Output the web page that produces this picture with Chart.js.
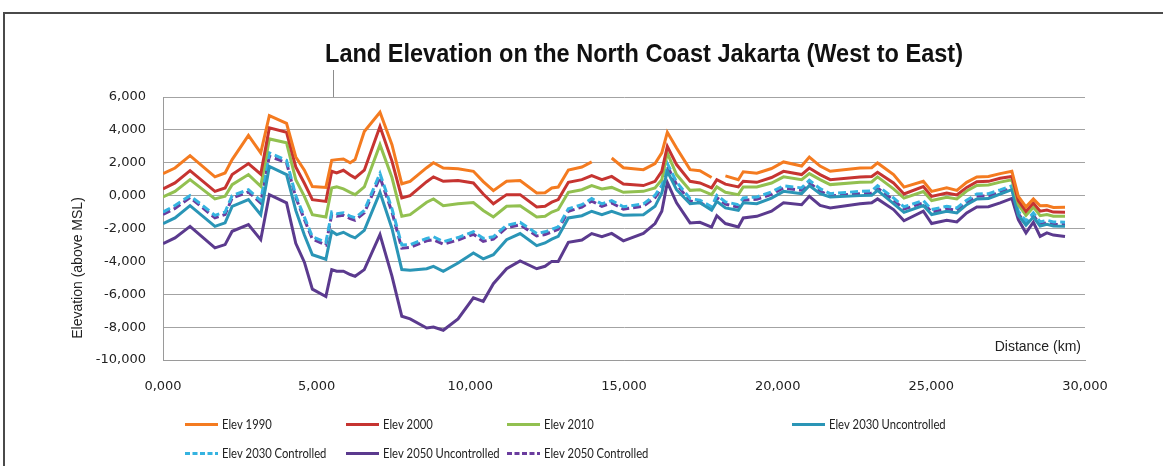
<!DOCTYPE html>
<html>
<head>
<meta charset="utf-8">
<script src="https://cdn.jsdelivr.net/npm/chart.js@4.4.1/dist/chart.umd.min.js"></script>
<style>
  html, body { margin: 0; padding: 0; background: #ffffff; }
  #wrap { position: relative; width: 1163px; height: 466px; overflow: hidden; }
  #frame { position: absolute; left: 3px; top: 12px; width: 1300px; height: 600px;
           border-top: 2px solid #4a4a4a; border-left: 2px solid #4a4a4a; }
  canvas { position: absolute; left: 0; top: 0; }
</style>
</head>
<body>
<div id="wrap">
  <div id="frame"></div>
  <canvas id="chart" width="1163" height="466"></canvas>
</div>
<script>
// Distance along the coast, km (west to east)
const distanceKm = [
  0, 0.39, 0.88, 1.69, 2.02, 2.25, 2.78, 3.18, 3.46, 4.02,
  4.32, 4.60, 4.86, 5.30, 5.49, 5.65, 5.87, 6.09, 6.25, 6.55,
  7.06, 7.45, 7.77, 8.04, 8.58, 8.80, 9.12, 9.60, 10.10, 10.42,
  10.75, 11.18, 11.62, 12.16, 12.43, 12.65, 12.86, 13.19, 13.63, 13.95,
  14.28, 14.60, 14.98, 15.63, 16.01, 16.23, 16.41, 16.71, 17.15, 17.47,
  17.85, 18.02, 18.30, 18.72, 18.88, 19.32, 19.80, 20.19, 20.78, 21.03,
  21.38, 21.71, 22.68, 23.06, 23.25, 23.77, 24.11, 24.74, 25.01, 25.50,
  25.83, 26.15, 26.48, 26.86, 27.24, 27.62, 27.83, 28.08, 28.32, 28.54,
  28.76, 28.97, 29.35
];

// Elevation above MSL, m
const elev1990 = [
  1.34, 1.68, 2.43, 1.14, 1.38, 2.19, 3.67, 2.60, 4.87, 4.40,
  2.35, 1.55, 0.55, 0.50, 2.15, 2.19, 2.23, 2.00, 2.19, 3.90,
  5.07, 3.10, 0.72, 0.87, 1.70, 2.00, 1.68, 1.64, 1.48, 0.85,
  0.30, 0.87, 0.92, 0.16, 0.18, 0.47, 0.52, 1.56, 1.74, 2.05,
  null, 2.29, 1.70, 1.58, 1.95, 2.60, 3.85, 2.90, 1.58, 1.52,
  1.10, null, 1.20, 0.97, 1.45, 1.36, 1.65, 2.05, 1.80, 2.35,
  1.80, 1.48, 1.68, 1.70, 1.99, 1.28, 0.52, 0.87, 0.26, 0.47,
  0.32, 0.81, 1.14, 1.16, 1.34, 1.48, -0.04, -0.68, -0.20, -0.62,
  -0.60, -0.72, -0.70
];
const elev2000 = [
  0.41, 0.77, 1.52, 0.26, 0.47, 1.28, 1.95, 1.30, 4.12, 3.85,
  1.75, 0.75, -0.25, -0.35, 1.48, 1.38, 1.54, 1.25, 1.08, 1.55,
  4.20, 2.10, -0.14, 0.00, 0.85, 1.14, 0.87, 0.92, 0.77, 0.10,
  -0.50, 0.06, 0.06, -0.69, -0.65, -0.40, -0.24, 0.81, 0.97, 1.22,
  0.97, 1.17, 0.70, 0.61, 0.87, 1.48, 3.00, 1.89, 0.87, 0.77,
  0.47, 0.97, 0.70, 0.53, 0.87, 0.81, 1.10, 1.48, 1.28, 1.68,
  1.28, 0.97, 1.14, 1.16, 1.42, 0.77, 0.10, 0.55, -0.05, 0.16,
  0.04, 0.50, 0.85, 0.87, 1.06, 1.17, -0.30, -0.95, -0.45, -0.95,
  -0.88, -1.00, -1.01
];
const elev2010 = [
  -0.08, 0.26, 0.97, -0.20, -0.04, 0.67, 1.28, 0.57, 3.45, 3.21,
  0.97, -0.04, -1.16, -1.30, 0.47, 0.53, 0.41, 0.20, 0.06, 0.53,
  3.10, 1.10, -1.26, -1.16, -0.40, -0.20, -0.61, -0.50, -0.42, -0.90,
  -1.30, -0.65, -0.61, -1.30, -1.26, -1.00, -0.85, 0.20, 0.36, 0.61,
  0.41, 0.50, 0.20, 0.26, 0.47, 0.97, 2.60, 1.28, 0.32, 0.36,
  0.06, 0.53, 0.20, 0.06, 0.53, 0.53, 0.77, 1.14, 0.97, 1.34,
  0.97, 0.67, 0.81, 0.83, 1.14, 0.41, -0.15, 0.25, -0.30, -0.10,
  -0.20, 0.28, 0.62, 0.65, 0.82, 0.97, -0.55, -1.20, -0.70, -1.22,
  -1.15, -1.25, -1.26
];
const elev2030Uncontrolled = [
  -1.70, -1.36, -0.61, -1.87, -1.66, -0.65, -0.24, -1.16, 1.78, 1.28,
  -0.90, -2.40, -3.60, -3.87, -2.17, -2.37, -2.23, -2.45, -2.57, -2.11,
  0.20, -2.00, -4.50, -4.54, -4.45, -4.30, -4.60, -4.10, -3.49, -3.85,
  -3.59, -2.68, -2.31, -3.04, -2.88, -2.65, -2.48, -1.36, -1.22, -0.95,
  -1.16, -0.95, -1.20, -1.16, -0.65, 0.16, 1.48, 0.36, -0.49, -0.44,
  -0.89, -0.35, -0.75, -0.89, -0.44, -0.49, -0.15, 0.26, 0.12, 0.61,
  0.12, -0.08, 0.00, 0.02, 0.32, -0.49, -1.02, -0.60, -1.15, -0.95,
  -1.05, -0.55, -0.20, -0.18, 0.10, 0.36, -1.20, -1.80, -1.30, -1.85,
  -1.75, -1.85, -1.87
];
const elev2030Controlled = [
  -1.00, -0.60, 0.00, -1.20, -1.00, 0.00, 0.36, -0.30, 2.60, 2.15,
  0.00, -1.30, -2.50, -2.85, -1.00, -1.10, -1.05, -1.25, -1.35, -0.90,
  1.35, -0.80, -3.00, -2.98, -2.60, -2.50, -2.80, -2.55, -2.20, -2.60,
  -2.50, -1.80, -1.63, -2.30, -2.20, -2.05, -1.90, -0.80, -0.55, -0.18,
  -0.50, -0.30, -0.68, -0.50, 0.02, 0.63, 1.95, 0.83, -0.18, -0.28,
  -0.68, 0.02, -0.38, -0.55, -0.14, -0.08, 0.22, 0.60, 0.47, 0.93,
  0.42, 0.12, 0.26, 0.28, 0.60, -0.14, -0.68, -0.30, -0.85, -0.65,
  -0.75, -0.28, 0.10, 0.12, 0.35, 0.60, -0.95, -1.55, -1.05, -1.60,
  -1.50, -1.60, -1.62
];
const elev2050Uncontrolled = [
  -2.92, -2.57, -1.87, -3.18, -2.98, -2.17, -1.76, -2.68, 0.06, -0.44,
  -2.90, -4.05, -5.69, -6.14, -4.50, -4.60, -4.60, -4.80, -4.91, -4.50,
  -2.37, -4.90, -7.34, -7.50, -8.05, -8.00, -8.19, -7.50, -6.22, -6.43,
  -5.36, -4.45, -3.97, -4.45, -4.30, -4.00, -4.00, -2.84, -2.70, -2.31,
  -2.50, -2.30, -2.75, -2.30, -1.70, -0.95, 0.80, -0.44, -1.66, -1.62,
  -1.91, -1.22, -1.70, -1.91, -1.36, -1.26, -0.95, -0.44, -0.55, -0.04,
  -0.60, -0.75, -0.49, -0.44, -0.20, -0.85, -1.53, -0.95, -1.70, -1.50,
  -1.60, -1.05, -0.69, -0.67, -0.44, -0.17, -1.46, -2.27, -1.62, -2.48,
  -2.27, -2.40, -2.48
];
const elev2050Controlled = [
  -1.15, -0.78, -0.12, -1.35, -1.15, -0.15, 0.22, -0.45, 2.40, 2.00,
  -0.12, -1.45, -2.65, -3.00, -1.15, -1.25, -1.20, -1.40, -1.50, -1.05,
  1.12, -1.00, -3.20, -3.15, -2.75, -2.68, -2.95, -2.70, -2.35, -2.78,
  -2.65, -1.95, -1.78, -2.45, -2.37, -2.20, -2.05, -0.95, -0.70, -0.33,
  -0.65, -0.45, -0.82, -0.65, -0.12, 0.48, 1.80, 0.68, -0.33, -0.42,
  -0.82, -0.12, -0.52, -0.70, -0.28, -0.22, 0.08, 0.46, 0.33, 0.78,
  0.28, -0.02, 0.12, 0.14, 0.46, -0.28, -0.82, -0.44, -1.00, -0.80,
  -0.90, -0.42, -0.04, -0.02, 0.20, 0.46, -1.10, -1.70, -1.20, -1.75,
  -1.65, -1.75, -1.76
];

const seriesNames = [
  'Elev 1990', 'Elev 2000', 'Elev 2010', 'Elev 2030 Uncontrolled',
  'Elev 2030 Controlled', 'Elev 2050 Uncontrolled', 'Elev 2050 Controlled'
];
const seriesValues = [
  elev1990, elev2000, elev2010, elev2030Uncontrolled,
  elev2030Controlled, elev2050Uncontrolled, elev2050Controlled
];
const seriesColors = ['#F47B20', '#C63431', '#92C050', '#2A95B6', '#35B3E0', '#5B3A8E', '#6A3C9E'];
const seriesDashed = [false, false, false, false, true, false, true];

// x: 0..30 km, y: -10..6 m, ticks written with a decimal comma
const xTicks = { min: 0, max: 30, step: 5 };
const yTicks = { min: -10, max: 6, step: 2 };
const fmt = v => Number(v).toFixed(3).replace('.', ',');

const datasets = seriesNames.map((name, i) => ({
  label: name,
  data: distanceKm.map((x, j) => ({ x: x, y: seriesValues[i][j] })),
  borderColor: seriesColors[i],
  backgroundColor: seriesColors[i],
  borderWidth: 3,
  borderDash: seriesDashed[i] ? [8, 4] : [],
  pointRadius: 0,
  tension: 0,
  spanGaps: false,
  fill: false
}));

// draws text squeezed horizontally by factor sx
function squeezedText(ctx, text, x, y, sx) {
  ctx.save();
  ctx.translate(x, y);
  ctx.scale(sx, 1);
  ctx.fillText(text, 0, 0);
  ctx.restore();
}

// title, axis captions and the two-row legend
const decorations = {
  id: 'decorations',
  afterDraw(chart) {
    const ctx = chart.ctx;
    const area = chart.chartArea;
    ctx.save();

    // small leader line above the plot
    ctx.strokeStyle = '#8c8c8c';
    ctx.lineWidth = 1;
    ctx.beginPath();
    ctx.moveTo(333.5, 70);
    ctx.lineTo(333.5, area.top);
    ctx.stroke();

    // title, condensed to its box
    const title = 'Land Elevation on the North Coast Jakarta (West to East)';
    ctx.font = 'bold 25px "Liberation Sans", Arial, sans-serif';
    ctx.fillStyle = '#111';
    ctx.textBaseline = 'middle';
    ctx.textAlign = 'center';
    const tw = ctx.measureText(title).width;
    squeezedText(ctx, title, 644, 55, 638 / tw);

    // y axis caption
    ctx.font = '14px "Liberation Sans", Arial, sans-serif';
    ctx.fillStyle = '#222';
    ctx.save();
    ctx.translate(78, 268);
    ctx.rotate(-Math.PI / 2);
    ctx.textAlign = 'center';
    ctx.fillText('Elevation (above MSL)', 0, 0);
    ctx.restore();

    // x axis caption inside the plot
    ctx.textAlign = 'right';
    ctx.fillText('Distance (km)', area.right - 4, 347);

    // legend
    const cols = [185, 346, 507, 792];
    const rows = [424, 453];
    ctx.font = '12.5px Lato, "Open Sans", sans-serif';
    ctx.textAlign = 'left';
    chart.data.datasets.forEach((ds, i) => {
      const x = cols[i < 4 ? i : i - 4];
      const y = rows[i < 4 ? 0 : 1];
      ctx.strokeStyle = ds.borderColor;
      ctx.lineWidth = 3;
      ctx.setLineDash(seriesDashed[i] ? [5, 2.5] : []);
      ctx.beginPath();
      ctx.moveTo(x, y + 0.5);
      ctx.lineTo(x + 33, y + 0.5);
      ctx.stroke();
      ctx.setLineDash([]);
      ctx.fillStyle = '#222';
      squeezedText(ctx, ds.label, x + 37, y + 1, 0.9);
    });
    ctx.restore();
  }
};

new Chart(document.getElementById('chart'), {
  type: 'line',
  data: { datasets: datasets },
  options: {
    responsive: false,
    animation: false,
    layout: { padding: { left: 0, right: 78, top: 97, bottom: 0 } },
    plugins: {
      legend: { display: false },
      title: { display: false },
      tooltip: { enabled: false }
    },
    scales: {
      x: {
        type: 'linear',
        min: xTicks.min,
        max: xTicks.max,
        ticks: {
          stepSize: xTicks.step,
          callback: fmt,
          padding: 19,
          maxRotation: 0,
          color: '#222',
          font: { family: '"DejaVu Sans", Verdana, sans-serif', size: 13 }
        },
        grid: { display: false, drawTicks: false },
        border: { display: true, color: '#9a9a9a', width: 1 },
        afterFit: s => { s.height = 106; }
      },
      y: {
        min: yTicks.min,
        max: yTicks.max,
        ticks: {
          stepSize: yTicks.step,
          callback: fmt,
          padding: 17,
          color: '#222',
          font: { family: '"DejaVu Sans", Verdana, sans-serif', size: 13 }
        },
        grid: { color: '#a3a3a3', lineWidth: 1, drawTicks: false },
        border: { display: true, color: '#9a9a9a', width: 1 },
        afterFit: s => { s.width = 163; }
      }
    }
  },
  plugins: [decorations]
});
</script>
</body>
</html>
